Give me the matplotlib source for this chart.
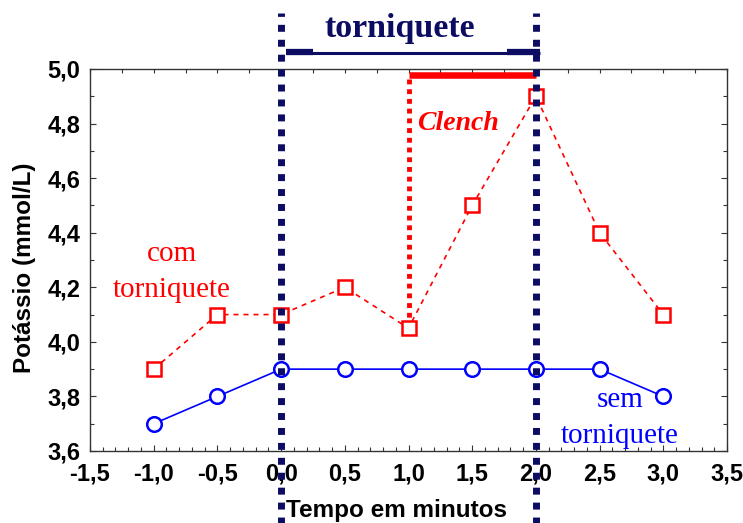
import matplotlib
matplotlib.use("Agg")
import matplotlib.pyplot as plt
from matplotlib.ticker import MultipleLocator, FuncFormatter

# data
tempo = [-1.0, -0.5, 0.0, 0.5, 1.0, 1.5, 2.0, 2.5, 3.0]
com_torniquete = [3.9, 4.1, 4.1, 4.2, 4.05, 4.5, 4.9, 4.4, 4.1]
sem_torniquete = [3.7, 3.8, 3.9, 3.9, 3.9, 3.9, 3.9, 3.9, 3.8]
torniquete_inicio, torniquete_fim = 0.0, 2.0
clench_inicio, clench_fim = 1.0, 2.0

NAVY = '#0c0c62'
RED = '#ff0000'
BLUE = '#0000ff'

fig = plt.figure(figsize=(7.43, 5.23), dpi=100)
ax = fig.add_axes([90/743, 1-451/523, (727-90)/743, (451-69)/523])
ax.set_xlim(-1.5, 3.5)
ax.set_ylim(3.6, 5.0)

ax.plot(tempo, com_torniquete, color=RED, lw=1.2, linestyle=(0, (3, 3)),
        marker='s', ms=10.5, mfc='white', mec=RED, mew=1.8, zorder=3)
ax.plot(tempo, sem_torniquete, color=BLUE, lw=1.2, linestyle='-',
        marker='o', ms=10.5, mfc='white', mec=BLUE, mew=1.8, zorder=3)

# tourniquet dashed verticals
for xv in (torniquete_inicio, torniquete_fim):
    ax.axvline(xv, ymin=-0.19, ymax=1.147, color=NAVY, lw=5, linestyle=(0, (1.0, 1.15)),
               dash_capstyle='butt', clip_on=False, zorder=5)

# bracket
ybr = 5.0 + (69 - 53) / 382 * 1.4
ax.plot([0.04, 2.03], [ybr, ybr], color=NAVY, lw=2.2, clip_on=False, solid_capstyle='butt', zorder=4)
ax.plot([0.04, 0.25], [ybr + 0.004, ybr + 0.004], color=NAVY, lw=4.5, clip_on=False, solid_capstyle='butt', zorder=4)
ax.plot([1.77, 2.03], [ybr + 0.004, ybr + 0.004], color=NAVY, lw=4.5, clip_on=False, solid_capstyle='butt', zorder=4)
ax.text(0.93, 5.0 + (69 - 37) / 382 * 1.4, 'torniquete', color=NAVY, fontsize=24.5,
        fontweight='bold', family='Liberation Serif', ha='center', va='baseline', clip_on=False)

# clench
ax.plot([clench_inicio, clench_fim], [4.978, 4.978], color=RED, lw=4.7, solid_capstyle='butt', zorder=4)
ax.plot([clench_inicio, clench_inicio], [4.963, 4.08], color=RED, lw=3.5,
        linestyle=(0, (1, 1)), dash_capstyle='butt', zorder=2)
ax.text(1.39, 4.80, 'Clench', color=RED, fontsize=20, fontweight='bold', style='italic',
        family='Liberation Serif', ha='center', va='center')

ax.text(-0.86, 4.255, 'com\ntorniquete', color=RED, fontsize=21, family='Liberation Serif',
        ha='center', va='center', linespacing=1.5)
ax.text(2.66, 3.72, 'sem\ntorniquete', color=BLUE, fontsize=21, family='Liberation Serif',
        ha='center', va='center', linespacing=1.5)

# ticks
comma = FuncFormatter(lambda v, p: f'{v:.1f}'.replace('.', ','))
ax.xaxis.set_major_locator(MultipleLocator(0.5))
ax.xaxis.set_minor_locator(MultipleLocator(0.1))
ax.yaxis.set_major_locator(MultipleLocator(0.2))
ax.yaxis.set_minor_locator(MultipleLocator(0.1))
ax.xaxis.set_major_formatter(comma)
ax.yaxis.set_major_formatter(comma)
ax.tick_params(axis='both', which='both', direction='in', color='#333333', width=0.8)
ax.tick_params(axis='both', which='major', length=4)
ax.tick_params(axis='both', which='minor', length=3)
ax.tick_params(axis='y', which='both', left=True, right=True)
ax.tick_params(axis='x', which='both', bottom=True, top=False)
ax.tick_params(axis='x', which='major', pad=8)
ax.tick_params(axis='y', which='major', pad=7)
for lab in ax.get_xticklabels() + ax.get_yticklabels():
    lab.set_fontfamily('Liberation Sans')
    lab.set_fontweight('bold')
    lab.set_fontsize(17)

sec = ax.secondary_xaxis('top')
sec.xaxis.set_major_locator(MultipleLocator(0.25))
sec.tick_params(direction='in', length=3, color='#333333', width=0.8, labeltop=False)
sec.spines['top'].set_visible(False)

for s in ax.spines.values():
    s.set_color('#333333')
    s.set_linewidth(1.0)

fig.text(396/743, 1-511/523, 'Tempo em minutos', fontsize=17.5, fontweight='bold',
         family='Liberation Sans', ha='center', va='center')
fig.text(25/743, 1-268/523, 'Potássio (mmol/L)', fontsize=17.5, fontweight='bold',
         family='Liberation Sans', ha='center', va='center', rotation=90)

fig.savefig('out.png', dpi=100)
